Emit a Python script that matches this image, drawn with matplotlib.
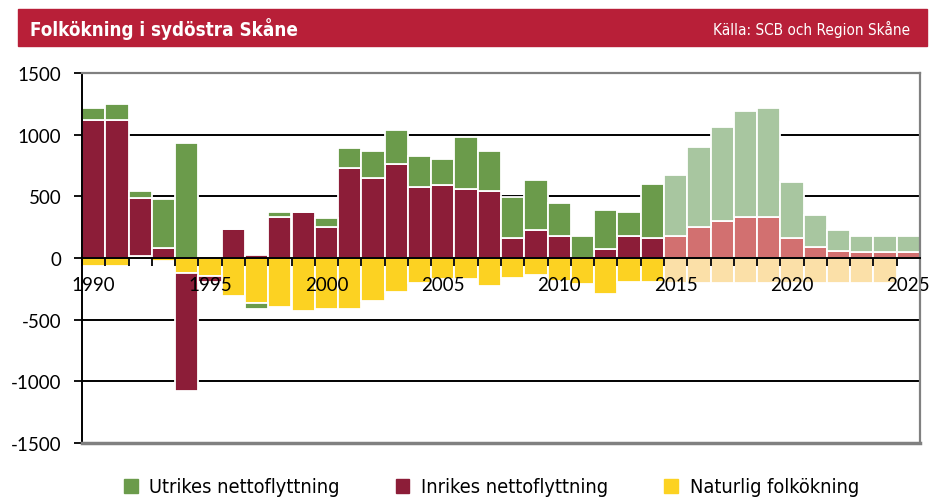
import numpy as np
import matplotlib.pyplot as plt
from matplotlib.patches import Rectangle, Patch

# data (1990-2025), 2015 onwards is forecast
years = list(range(1990, 2026))
naturlig = [-65, -65, 20, -25, -125, -145, -305, -365, -395, -430,
            -415, -415, -350, -275, -200, -170, -170, -230, -160, -140,
            -185, -213, -293, -198, -198, -200, -200, -200, -200, -200,
            -200, -200, -200, -200, -200, 0]
inrikes = [1120, 1120, 470, 80, -950, -50, 236, 24, 334, 372,
           255, 726, 650, 766, 576, 590, 557, 541, 163, 228,
           182, 0, 73, 177, 160, 182, 255, 299, 332, 332,
           160, 87, 60, 46, 46, 46]
utrikes = [100, 130, 52, 400, 930, 0, 0, -45, 38, 0,
           71, 163, 220, 272, 250, 209, 421, 329, 332, 402,
           266, 182, 313, 195, 438, 495, 647, 766, 856, 883,
           457, 258, 163, 136, 136, 136]
prognos_start = 2015

labels = ["Utrikes nettoflyttning", "Inrikes nettoflyttning", "Naturlig folkökning"]
dark = {"utr": "#6B9B4B", "inr": "#8C1D38", "nat": "#FCD222"}
light = {"utr": "#A8C6A0", "inr": "#D27070", "nat": "#FBE0A8"}

plt.rcParams["font.family"] = ["Lato", "DejaVu Sans"]
plt.rcParams["axes.unicode_minus"] = False

fig = plt.figure(figsize=(9.36, 5.02), dpi=100)
ax = fig.add_axes([82 / 936, 1 - 444 / 502, 838 / 936, 370 / 502])

x = np.arange(len(years))
pos = np.zeros(len(years))
neg = np.zeros(len(years))
for key, vals in [("nat", naturlig), ("inr", inrikes), ("utr", utrikes)]:
    vals = np.array(vals, dtype=float)
    cols = [light[key] if y >= prognos_start else dark[key] for y in years]
    base = np.where(vals >= 0, pos, neg)
    ax.bar(x, vals, bottom=base, width=1.0, color=cols,
           edgecolor="white", linewidth=1.3, zorder=1)
    pos += np.clip(vals, 0, None)
    neg += np.clip(vals, None, 0)

# gridlines below the bars
for g in [1000, 500, -500, -1000]:
    ax.axhline(g, color="black", linewidth=1.4, zorder=0.5)

ax.set_xlim(-0.5, len(years) - 0.5)
ax.set_ylim(-1500, 1500)
ax.set_yticks(np.arange(-1500, 1501, 500))
ax.tick_params(axis="y", direction="out", length=6, width=1.3, pad=9,
               labelsize=13.5, color="black")

ax.spines["bottom"].set_position(("data", 0))
ax.spines["bottom"].set_linewidth(1.4)
ax.spines["left"].set_linewidth(1.4)
for s in ["top", "right"]:
    ax.spines[s].set_color("#808080")
    ax.spines[s].set_linewidth(1.6)
ax.axhline(-1500, color="#808080", linewidth=2.5, zorder=3, clip_on=False)

tick_years = [y for y in years if y % 5 == 0]
ax.set_xticks([years.index(y) for y in tick_years])
ax.set_xticklabels([str(y) for y in tick_years])
ax.set_xticks(np.arange(-0.5, len(years), 1.0), minor=True)
ax.tick_params(axis="x", which="major", length=0, pad=13, labelsize=13.5)
ax.tick_params(axis="x", which="minor", direction="out", length=6, width=1.3)

# title bar
fig.patches.append(Rectangle((18 / 936, 1 - 47 / 502), 909 / 936, 37 / 502,
                             transform=fig.transFigure, color="#B81F38", zorder=0))
fig.text(30 / 936, 1 - 29 / 502, "Folkökning i sydöstra Skåne", color="white",
         fontsize=13.5, fontweight="bold", family="DejaVu Sans", stretch="condensed",
         va="center", ha="left")
fig.text(910 / 936, 1 - 29 / 502, "Källa: SCB och Region Skåne", color="white",
         fontsize=11, family="DejaVu Sans", stretch="condensed", va="center", ha="right")

handles = [Patch(color=dark["utr"]), Patch(color=dark["inr"]), Patch(color=dark["nat"])]
fig.legend(handles, labels, loc="center", bbox_to_anchor=(0.525, 1 - 488 / 502),
           ncol=3, frameon=False, handlelength=0.7, handleheight=0.7,
           handletextpad=0.6, columnspacing=2.8,
           prop={"family": "DejaVu Sans", "stretch": "condensed", "size": 14.3})

fig.savefig("out.png", dpi=100)
